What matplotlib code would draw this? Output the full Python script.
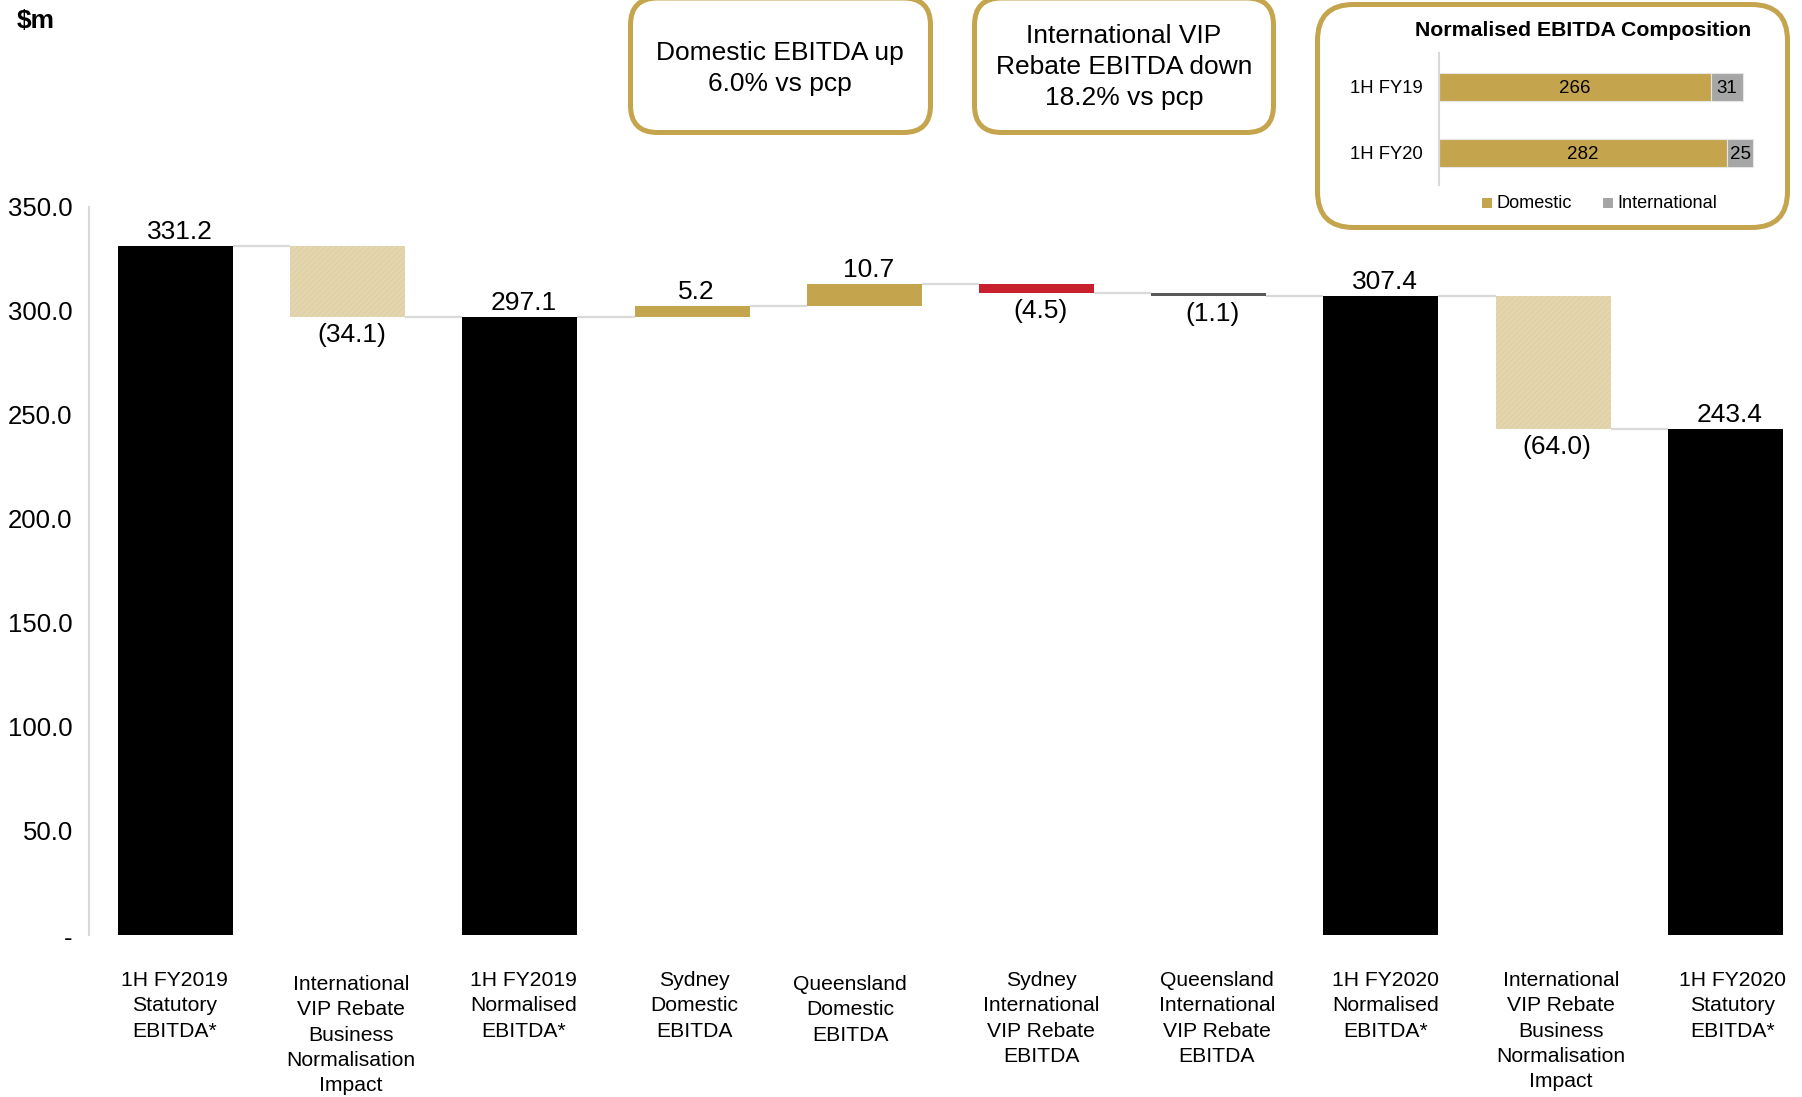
import matplotlib
matplotlib.use("Agg")
import matplotlib.pyplot as plt
from matplotlib.patches import FancyBboxPatch, Rectangle

plt.rcParams['font.family'] = ['Liberation Sans', 'DejaVu Sans']
plt.rcParams['hatch.linewidth'] = 0.4

# ---- waterfall data ($m) ----
categories = [
    "1H FY2019\nStatutory\nEBITDA*",
    "International\nVIP Rebate\nBusiness\nNormalisation\nImpact",
    "1H FY2019\nNormalised\nEBITDA*",
    "Sydney\nDomestic\nEBITDA",
    "Queensland\nDomestic\nEBITDA",
    "Sydney\nInternational\nVIP Rebate\nEBITDA",
    "Queensland\nInternational\nVIP Rebate\nEBITDA",
    "1H FY2020\nNormalised\nEBITDA*",
    "International\nVIP Rebate\nBusiness\nNormalisation\nImpact",
    "1H FY2020\nStatutory\nEBITDA*",
]
values = [331.2, -34.1, 297.1, 5.2, 10.7, -4.5, -1.1, 307.4, -64.0, 243.4]
is_total = [True, False, True, False, False, False, False, True, False, True]
bar_colors = ["#000000", "#E3D5AE", "#000000", "#C5A44E", "#C5A44E",
              "#C8202C", "#595959", "#000000", "#E3D5AE", "#000000"]
hatched = [False, True, False, False, False, False, False, False, True, False]
label_dx_px = [-1, 3, 3.5, 2, -14, 4.5, 8, 4.5, 8, 7]
label_drop_px = [0, 4, 0, 0, 4, 0, 0, 0, 0, 0]
yticks = [0, 50, 100, 150, 200, 250, 300, 350]

# ---- composition inset data ----
comp_periods = ["1H FY19", "1H FY20"]
comp_domestic = [266, 282]
comp_international = [31, 25]

# ---- callout texts ----
callout_domestic = "Domestic EBITDA up\n6.0% vs pcp"
callout_international = "International VIP\nRebate EBITDA down\n18.2% vs pcp"

GOLD = "#C5A44E"
GREY = "#A6A6A6"
LINE = "#D9D9D9"

W, H = 1802, 1097
fig = plt.figure(figsize=(W / 100, H / 100), dpi=100)
fig.patch.set_facecolor("white")

# overlay in pixel coordinates for callout boxes and free text
ov = fig.add_axes([0, 0, 1, 1])
ov.set_xlim(0, W)
ov.set_ylim(H, 0)
ov.axis("off")

# ---- main waterfall axes ----
ax_left, ax_right = 89.4, 1811.4
ax_top, ax_bottom = 207, 935
ax = fig.add_axes([ax_left / W, 1 - ax_bottom / H,
                   (ax_right - ax_left) / W, (ax_bottom - ax_top) / H])
ax.patch.set_visible(False)
ax.set_xlim(-0.5, len(values) - 0.5)
ax.set_ylim(0, 350)

bw = 0.668
running = 0.0
levels = []
for i, v in enumerate(values):
    if is_total[i]:
        bottom, height = 0.0, v
        running = v
    else:
        bottom = running if v > 0 else running + v
        height = abs(v)
        running += v
    levels.append(running)
    ax.bar(i, height, bottom=bottom, width=bw, color=bar_colors[i],
           edgecolor="#DACA9E" if hatched[i] else bar_colors[i],
           linewidth=0, hatch="//////" if hatched[i] else None, zorder=3)
    if v >= 0:
        ax.annotate(f"{v:.1f}", (i, bottom + height), xytext=(4, 7),
                    textcoords="offset pixels", ha="center", va="baseline",
                    fontsize=19, color="#000000")
    else:
        ax.annotate(f"({abs(v):.1f})", (i, bottom), xytext=(4, -6),
                    textcoords="offset pixels", ha="center", va="top",
                    fontsize=19, color="#000000")

# connectors between consecutive bars
for i in range(len(values) - 1):
    ax.plot([i + bw / 2, i + 1 - bw / 2], [levels[i], levels[i]],
            color=LINE, lw=1.6, zorder=2, solid_capstyle="butt")

for s in ["top", "right", "bottom"]:
    ax.spines[s].set_visible(False)
ax.spines["left"].set_color(LINE)
ax.spines["left"].set_linewidth(1.5)
ax.set_yticks(yticks)
ax.set_yticklabels(["" if t == 0 else f"{t:.1f}" for t in yticks], fontsize=18.5)
ax.tick_params(axis="y", length=0, pad=12)
ax.set_xticks([])

# category labels under the bars
xform = ax.get_xaxis_transform()
for i, lab in enumerate(categories):
    ax.annotate(lab, (i, 0), xycoords=xform,
                xytext=(label_dx_px[i], -36 - label_drop_px[i]),
                textcoords="offset pixels", ha="center", va="top",
                fontsize=15.2, linespacing=1.42, annotation_clip=False)

# zero tick shown as a dash
ov.text(68, 939, "-", ha="center", va="center", fontsize=18.5)
ov.text(17, 21, "$m", ha="left", va="center", fontsize=19, fontweight="bold")

# ---- callout boxes ----
def callout(x0, y0, x1, y1, r):
    ov.add_patch(FancyBboxPatch((x0 + r, y0 + r), (x1 - x0) - 2 * r, (y1 - y0) - 2 * r,
                                boxstyle=f"round,pad={r},rounding_size={r}",
                                facecolor="white", edgecolor=GOLD, linewidth=3.6,
                                zorder=1))

callout(630.5, -2, 930.5, 132.5, 27)
callout(974.5, -2, 1273.5, 132.5, 27)
callout(1317.5, 4.5, 1787.5, 227.5, 36)

ov.text(780, 68.5, callout_domestic, ha="center", va="center", fontsize=19,
        linespacing=1.41, zorder=2)
ov.text(1124, 67, callout_international, ha="center", va="center", fontsize=19,
        linespacing=1.39, zorder=2)

# ---- composition inset ----
ov.text(1583, 30, "Normalised EBITDA Composition", ha="center", va="center",
        fontsize=15.3, fontweight="bold", zorder=2)

in_left, in_right, in_top, in_bottom = 1439, 1776.5, 53, 185
iax = fig.add_axes([in_left / W, 1 - in_bottom / H,
                    (in_right - in_left) / W, (in_bottom - in_top) / H])
iax.patch.set_visible(False)
iax.set_xlim(0, 330)
iax.set_ylim(1.485, -0.515)
ypos = list(range(len(comp_periods)))
iax.barh(ypos, comp_domestic, height=0.41, color=GOLD, edgecolor="#E6E6E6", linewidth=0.8)
iax.barh(ypos, comp_international, left=comp_domestic, height=0.41, color=GREY,
         edgecolor="#E6E6E6", linewidth=0.8)
for y, d, n in zip(ypos, comp_domestic, comp_international):
    iax.text(d / 2, y, f"{d}", ha="center", va="center_baseline", fontsize=13.5)
    iax.text(d + n / 2, y, f"{n}", ha="center", va="center_baseline", fontsize=13.5)
for s in ["top", "right", "bottom"]:
    iax.spines[s].set_visible(False)
iax.spines["left"].set_color(LINE)
iax.spines["left"].set_linewidth(1.5)
iax.set_xticks([])
iax.set_yticks(ypos)
iax.set_yticklabels(comp_periods, fontsize=13.3)
iax.tick_params(axis="y", length=0, pad=11.5)

# inset legend
for x_sq, x_txt, lab, col in [(1482, 1496, "Domestic", GOLD),
                              (1603, 1617, "International", GREY)]:
    ov.add_patch(Rectangle((x_sq, 198), 10, 10, facecolor=col, edgecolor="none", zorder=2))
    ov.text(x_txt, 203, lab, ha="left", va="center", fontsize=13.1, zorder=2)

fig.savefig("out.png", dpi=100, facecolor="white")
